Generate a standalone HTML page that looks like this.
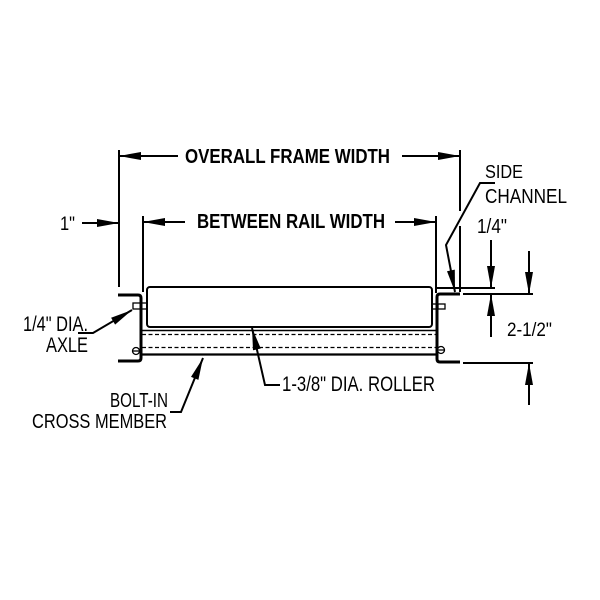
<!DOCTYPE html>
<html>
<head>
<meta charset="utf-8">
<style>
html,body{margin:0;padding:0;background:#fff;}
svg{display:block;}
text{font-family:"Liberation Sans Narrow","Liberation Sans",Arial,sans-serif;fill:#000;}
</style>
</head>
<body>
<svg width="600" height="600" viewBox="0 0 600 600" xmlns="http://www.w3.org/2000/svg">
<rect width="600" height="600" fill="#fff"/>
<g stroke="#000" stroke-width="2" fill="none" stroke-linecap="butt">
  <!-- extension lines -->
  <line x1="119" y1="150" x2="119" y2="287"/>
  <line x1="143" y1="216" x2="143" y2="292"/>
  <line x1="460" y1="150" x2="460" y2="211"/>
  <line x1="460" y1="226" x2="460" y2="292"/>
  <line x1="436" y1="216" x2="436" y2="293"/>
  <line x1="437" y1="288" x2="495" y2="288"/>
  <line x1="463" y1="294" x2="533" y2="294"/>
  <line x1="463" y1="363" x2="533" y2="363"/>
  <!-- dimension lines -->
  <line x1="119" y1="156" x2="178" y2="156"/>
  <line x1="402" y1="156" x2="460" y2="156"/>
  <line x1="143" y1="222" x2="185" y2="222"/>
  <line x1="395" y1="222" x2="436" y2="222"/>
  <line x1="82" y1="223" x2="119" y2="223"/>
  <line x1="491" y1="240" x2="491" y2="288"/>
  <line x1="491" y1="294" x2="491" y2="337"/>
  <line x1="529" y1="251" x2="529" y2="294"/>
  <line x1="529" y1="363" x2="529" y2="405"/>
  <!-- leaders -->
  <polyline points="495,183 480,183 446,245 455,292"/>
  <polyline points="78,333 93,333 132,310"/>
  <polyline points="170,412 181,412 203,358"/>
  <polyline points="280,385 265,385 252,328"/>
</g>
<g fill="#000" stroke="none">
  <polygon points="119,156 141,152 141,160"/>
  <polygon points="460,156 438,152 438,160"/>
  <polygon points="143,222 165,218 165,226"/>
  <polygon points="436,222 414,218 414,226"/>
  <polygon points="119,223 97,219 97,227"/>
  <polygon points="491,288 487,266 495,266"/>
  <polygon points="491,294 487,316 495,316"/>
  <polygon points="529,294 525,272 533,272"/>
  <polygon points="529,363 525,385 533,385"/>
  <polygon points="455,292 447,271.2 454.8,269.6"/>
  <polygon points="132,310 115.1,324.6 111.1,317.8"/>
  <polygon points="203,358 198.4,379.9 191,376.9"/>
  <polygon points="252,328 260.8,348.5 253,350.3"/>
</g>
<!-- roller -->
<rect x="147" y="287" width="285" height="40" rx="3" ry="3" fill="#fff" stroke="#000" stroke-width="2"/>
<!-- cross member -->
<g stroke="#000" fill="none">
  <line x1="142" y1="330.5" x2="437" y2="330.5" stroke-width="1.5"/>
  <line x1="142" y1="334.5" x2="437" y2="334.5" stroke-width="1.3" stroke-dasharray="4,2.5"/>
  <line x1="142" y1="347.5" x2="437" y2="347.5" stroke-width="1.3" stroke-dasharray="4,2.5"/>
  <line x1="142" y1="354.5" x2="437" y2="354.5" stroke-width="2.2"/>
</g>
<!-- axles -->
<g stroke="#000" stroke-width="1.3" fill="#fff">
  <line x1="141" y1="303" x2="147" y2="303"/>
  <line x1="141" y1="309" x2="147" y2="309"/>
  <rect x="133" y="303" width="8" height="6"/>
  <line x1="432" y1="304" x2="437" y2="304"/>
  <line x1="432" y1="309" x2="437" y2="309"/>
  <rect x="438" y="304" width="7" height="5"/>
</g>
<!-- channels -->
<g stroke="#000" stroke-width="3" fill="none" stroke-linejoin="round">
  <path d="M118,295 L138,295 Q141,295 141,298 L141,358 Q141,361 138,361 L118,361"/>
  <path d="M460,294 L440,294 Q437,294 437,297 L437,359 Q437,362 440,362 L460,362"/>
</g>
<!-- bolts -->
<g stroke="#000" stroke-width="1.3" fill="#fff">
  <circle cx="136" cy="351" r="3.5"/>
  <circle cx="441" cy="350" r="3.5"/>
  <line x1="132.5" y1="351" x2="139.5" y2="351"/>
  <line x1="437.5" y1="350" x2="444.5" y2="350"/>
</g>
<!-- text -->
<text x="185" y="163" font-size="20" font-weight="bold" textLength="205" lengthAdjust="spacingAndGlyphs">OVERALL FRAME WIDTH</text>
<text x="197" y="228" font-size="20" font-weight="bold" textLength="188" lengthAdjust="spacingAndGlyphs">BETWEEN RAIL WIDTH</text>
<text x="60" y="230" font-size="19" textLength="15" lengthAdjust="spacingAndGlyphs">1"</text>
<text x="485" y="178" font-size="18" textLength="38" lengthAdjust="spacingAndGlyphs">SIDE</text>
<text x="485" y="203" font-size="20" textLength="82" lengthAdjust="spacingAndGlyphs">CHANNEL</text>
<text x="477" y="233" font-size="20" textLength="30" lengthAdjust="spacingAndGlyphs">1/4"</text>
<text x="507" y="336" font-size="19" textLength="45" lengthAdjust="spacingAndGlyphs">2-1/2"</text>
<text x="23" y="331" font-size="21" textLength="65" lengthAdjust="spacingAndGlyphs">1/4" DIA.</text>
<text x="46" y="352" font-size="21" textLength="42" lengthAdjust="spacingAndGlyphs">AXLE</text>
<text x="110" y="407" font-size="20" textLength="58" lengthAdjust="spacingAndGlyphs">BOLT-IN</text>
<text x="32" y="428" font-size="20" textLength="135" lengthAdjust="spacingAndGlyphs">CROSS MEMBER</text>
<text x="282" y="391" font-size="21" textLength="153" lengthAdjust="spacingAndGlyphs">1-3/8" DIA. ROLLER</text>
</svg>
</body>
</html>
